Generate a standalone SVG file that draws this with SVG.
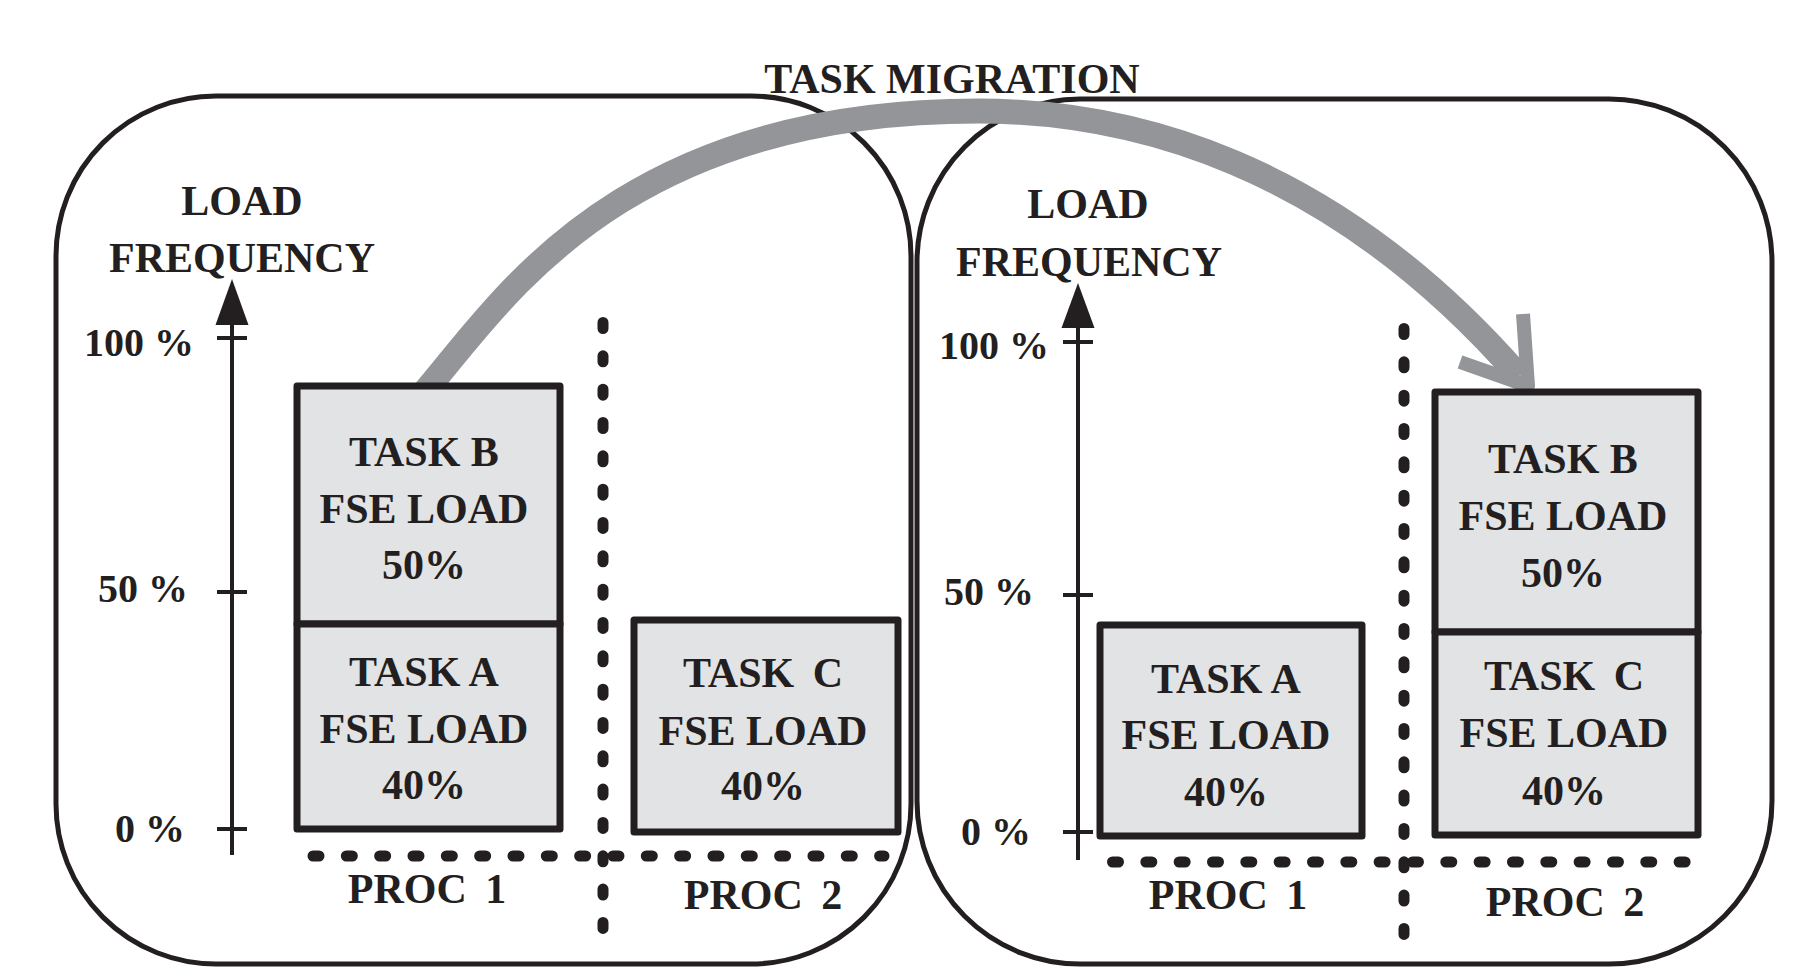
<svg xmlns="http://www.w3.org/2000/svg" width="1819" height="979" viewBox="0 0 1819 979">
<style>
  text { font-family: "Liberation Serif", "Times New Roman", serif; font-weight: bold; fill: #231f20; }
  .lbl { font-size: 42px; text-anchor: middle; }
  .ax { font-size: 40px; text-anchor: end; }
  .ws { word-spacing: 8px; }
  .panel { fill: none; stroke: #231f20; stroke-width: 5; }
  .task { fill: #e2e3e5; stroke: #231f20; stroke-width: 7; stroke-linejoin: round; }
  .axis { stroke: #231f20; stroke-width: 4; fill: none; }
  .dots { stroke: #231f20; stroke-width: 11; stroke-linecap: round; stroke-dasharray: 6 27.33; fill: none; }
  .mig { stroke: #939598; fill: none; stroke-linecap: butt; }
</style>

<g id="panel-before">
  <rect class="panel" x="56" y="96" width="855" height="868" rx="160" ry="160"/>
</g>
<g id="panel-after">
  <rect class="panel" x="917" y="99" width="855" height="865" rx="163" ry="163"/>
</g>

<g id="connectors">
  <path class="mig" stroke-width="25" d="M422,395 L432,383 C506,295 626,111 978,111 C1128,111 1330,160 1519,376"/>
  <path class="mig" stroke-width="14" stroke-linecap="round" stroke-linejoin="round" d="M1523,314 L1528,386 L1460,362"/>
</g>

<g id="title">
  <text class="lbl" x="952" y="93">TASK MIGRATION</text>
</g>

<!-- Left panel -->
<g id="left-axis">
  <text class="lbl" x="242" y="215">LOAD</text>
  <text class="lbl" x="242" y="272">FREQUENCY</text>
  <line class="axis" x1="232" y1="320" x2="232" y2="855"/>
  <polygon points="232,279 215.5,325 248.5,325" fill="#231f20"/>
  <line class="axis" x1="217" y1="338" x2="247" y2="338"/>
  <line class="axis" x1="217" y1="592" x2="247" y2="592"/>
  <line class="axis" x1="217" y1="829" x2="247" y2="829"/>
  <text class="ax" x="194" y="356">100 %</text>
  <text class="ax" x="188" y="602">50 %</text>
  <text class="ax" x="185" y="842">0 %</text>
</g>
<g id="left-grid">
  <line class="dots" x1="603" y1="322.5" x2="603" y2="941"/>
  <line class="dots" x1="313" y1="856" x2="884" y2="856"/>
  <text class="lbl ws" x="427" y="903">PROC 1</text>
  <text class="lbl ws" x="763" y="909">PROC 2</text>
</g>
<g id="left-task-b">
  <rect class="task" x="297" y="386" width="263" height="238"/>
  <text class="lbl" x="424" y="466">TASK B</text>
  <text class="lbl" x="424" y="523">FSE LOAD</text>
  <text class="lbl" x="424" y="579">50%</text>
</g>
<g id="left-task-a">
  <rect class="task" x="297" y="624" width="263" height="205"/>
  <text class="lbl" x="424" y="686">TASK A</text>
  <text class="lbl" x="424" y="743">FSE LOAD</text>
  <text class="lbl" x="424" y="799">40%</text>
</g>
<g id="left-task-c">
  <rect class="task" x="634" y="620" width="264" height="212"/>
  <text class="lbl ws" x="763" y="687">TASK C</text>
  <text class="lbl" x="763" y="745">FSE LOAD</text>
  <text class="lbl" x="763" y="800">40%</text>
</g>

<!-- Right panel -->
<g id="right-axis">
  <text class="lbl" x="1088" y="218">LOAD</text>
  <text class="lbl" x="1089" y="276">FREQUENCY</text>
  <line class="axis" x1="1078" y1="323" x2="1078" y2="860"/>
  <polygon points="1078,283 1061.5,328 1094.5,328" fill="#231f20"/>
  <line class="axis" x1="1063" y1="342" x2="1093" y2="342"/>
  <line class="axis" x1="1063" y1="595" x2="1093" y2="595"/>
  <line class="axis" x1="1063" y1="832" x2="1093" y2="832"/>
  <text class="ax" x="1049" y="359">100 %</text>
  <text class="ax" x="1034" y="605">50 %</text>
  <text class="ax" x="1031" y="845">0 %</text>
</g>
<g id="right-grid">
  <line class="dots" x1="1404" y1="328.5" x2="1404" y2="938"/>
  <line class="dots" x1="1112.5" y1="862" x2="1688" y2="862"/>
  <text class="lbl ws" x="1228" y="909">PROC 1</text>
  <text class="lbl ws" x="1565" y="916">PROC 2</text>
</g>
<g id="right-task-a">
  <rect class="task" x="1100" y="625" width="262" height="211"/>
  <text class="lbl" x="1226" y="693">TASK A</text>
  <text class="lbl" x="1226" y="749">FSE LOAD</text>
  <text class="lbl" x="1226" y="806">40%</text>
</g>
<g id="right-task-b">
  <rect class="task" x="1435" y="392" width="263" height="240"/>
  <text class="lbl" x="1563" y="473">TASK B</text>
  <text class="lbl" x="1563" y="530">FSE LOAD</text>
  <text class="lbl" x="1563" y="587">50%</text>
</g>
<g id="right-task-c">
  <rect class="task" x="1435" y="632" width="263" height="203"/>
  <text class="lbl ws" x="1564" y="690">TASK C</text>
  <text class="lbl" x="1564" y="747">FSE LOAD</text>
  <text class="lbl" x="1564" y="805">40%</text>
</g>
</svg>
